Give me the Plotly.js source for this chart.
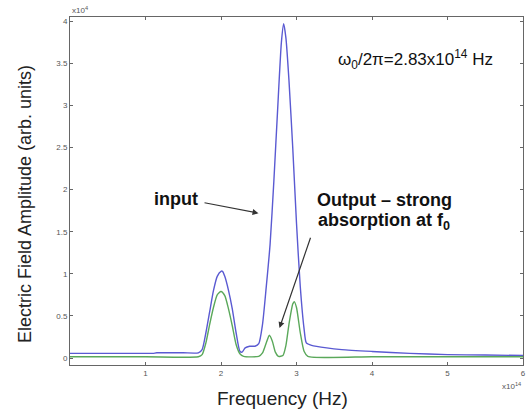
<!DOCTYPE html>
<html>
<head>
<meta charset="utf-8">
<script src="https://cdn.plot.ly/plotly-3.0.1.min.js"></script>
<style>html,body{margin:0;padding:0;background:#fff;}#chart{width:526px;height:413px;}</style>
</head>
<body>
<div id="chart"></div>
<script>
// Frequency in units of 1e14 Hz, amplitude in units of 1e4
const inputFreq = [0, 0.5, 1.0, 1.1, 1.15, 1.5, 1.7, 1.75, 1.8, 1.85, 1.9, 1.95, 2.0, 2.02, 2.05, 2.1, 2.15, 2.2, 2.25, 2.28, 2.32, 2.38, 2.45, 2.5, 2.55, 2.6, 2.65, 2.7, 2.75, 2.8, 2.83, 2.86, 2.9, 2.95, 3.0, 3.05, 3.1, 3.13, 3.2, 3.4, 3.6, 4.0, 4.5, 5.0, 5.5, 6.0];
const inputAmp  = [0.055, 0.055, 0.055, 0.055, 0.062, 0.062, 0.062, 0.1, 0.3, 0.55, 0.8, 0.97, 1.03, 1.03, 0.97, 0.8, 0.58, 0.3, 0.08, 0.07, 0.12, 0.14, 0.14, 0.17, 0.4, 0.85, 1.35, 2.1, 2.95, 3.75, 3.97, 3.8, 3.3, 2.5, 1.6, 0.85, 0.35, 0.18, 0.15, 0.12, 0.1, 0.078, 0.055, 0.04, 0.035, 0.03];
const outputFreq = [0, 1.0, 1.7, 1.75, 1.8, 1.85, 1.9, 1.95, 2.0, 2.05, 2.1, 2.15, 2.2, 2.25, 2.3, 2.5, 2.55, 2.6, 2.64, 2.68, 2.72, 2.76, 2.82, 2.86, 2.9, 2.95, 2.97, 3.0, 3.05, 3.1, 3.15, 4.0, 5.0, 6.0];
const outputAmp  = [0.015, 0.015, 0.015, 0.04, 0.18, 0.4, 0.6, 0.75, 0.79, 0.74, 0.58, 0.38, 0.16, 0.05, 0.02, 0.02, 0.06, 0.18, 0.27, 0.2, 0.07, 0.02, 0.03, 0.15, 0.4, 0.64, 0.67, 0.6, 0.3, 0.08, 0.02, 0.015, 0.015, 0.015];
const xTickVals = [1, 2, 3, 4, 5, 6];
const xTickText = ['1', '2', '3', '4', '5', '6'];
const yTickVals = [0, 0.5, 1, 1.5, 2, 2.5, 3, 3.5, 4];
const yTickText = ['0', '0.5', '1', '1.5', '2', '2.5', '3', '3.5', '4'];

const traces = [
  {x: inputFreq, y: inputAmp, mode: 'lines', line: {color: '#5a5ad2', width: 1.4, shape: 'spline', smoothing: 0.6}, name: 'input', hoverinfo: 'skip'},
  {x: outputFreq, y: outputAmp, mode: 'lines', line: {color: '#5aa85a', width: 1.4, shape: 'spline', smoothing: 0.6}, name: 'output', hoverinfo: 'skip'}
];

const bold = {family: 'Arial, Liberation Sans, sans-serif', size: 18, color: '#111'};
const layout = {
  width: 526, height: 413,
  margin: {l: 70, r: 3, t: 17, b: 48},
  paper_bgcolor: '#fff', plot_bgcolor: '#fff',
  showlegend: false,
  xaxis: {range: [0, 6], tickvals: xTickVals, ticktext: xTickText, ticks: 'inside', ticklen: 3, tickcolor: '#666',
          showline: true, linecolor: '#666', linewidth: 1, mirror: 'ticks', showgrid: false, zeroline: false,
          tickfont: {family: 'Arial, sans-serif', size: 8, color: '#555'}},
  yaxis: {range: [-0.083, 4.05], tickvals: yTickVals, ticktext: yTickText, ticks: 'inside', ticklen: 3, tickcolor: '#666',
          showline: true, linecolor: '#666', linewidth: 1, mirror: 'ticks', showgrid: false, zeroline: false,
          tickfont: {family: 'Arial, sans-serif', size: 8, color: '#555'}},
  annotations: [
    {xref: 'paper', yref: 'paper', x: -0.099, y: 0.463, text: 'Electric Field Amplitude (arb. units)', textangle: -90, showarrow: false,
     font: {family: 'Arial, Liberation Sans, sans-serif', size: 18, color: '#222'}, xanchor: 'center', yanchor: 'middle'},
    {xref: 'paper', yref: 'paper', x: 0.47, y: -0.095, text: 'Frequency (Hz)', showarrow: false,
     font: {family: 'Arial, Liberation Sans, sans-serif', size: 19, color: '#222'}, xanchor: 'center', yanchor: 'middle'},
    {xref: 'paper', yref: 'paper', x: 0.0, y: 1.0, text: 'x10<sup>4</sup>', showarrow: false, xanchor: 'left', yanchor: 'bottom',
     font: {family: 'Arial, sans-serif', size: 8, color: '#555'}},
    {xref: 'paper', yref: 'paper', x: 1.0, y: -0.06, text: 'x10<sup>14</sup>', showarrow: false, xanchor: 'right', yanchor: 'middle',
     font: {family: 'Arial, sans-serif', size: 8, color: '#555'}},
    {xref: 'x', yref: 'y', x: 4.576, y: 3.54, text: 'ω<sub>0</sub>/2π=2.83x10<sup>14</sup> Hz', showarrow: false,
     font: {family: 'Arial, Liberation Sans, sans-serif', size: 17, color: '#111'}},
    {xref: 'x', yref: 'y', x: 1.41, y: 1.89, text: '<b>input</b>', showarrow: false, font: bold},
    {xref: 'x', yref: 'y', x: 4.16, y: 1.88, text: '<b>Output – strong</b>', showarrow: false, font: bold},
    {xref: 'x', yref: 'y', x: 4.16, y: 1.62, text: '<b>absorption at f<sub>0</sub></b>', showarrow: false, font: bold},
    {xref: 'x', yref: 'y', x: 2.497, y: 1.72, ax: -57, ay: -11, text: ' ', showarrow: true, arrowhead: 2, arrowsize: 1, arrowwidth: 1.2, arrowcolor: '#333'},
    {xref: 'x', yref: 'y', x: 2.775, y: 0.356, ax: 34, ay: -99, text: ' ', showarrow: true, arrowhead: 2, arrowsize: 1, arrowwidth: 1.2, arrowcolor: '#333'}
  ]
};
Plotly.newPlot('chart', traces, layout, {staticPlot: true, displayModeBar: false});
</script>
</body>
</html>
